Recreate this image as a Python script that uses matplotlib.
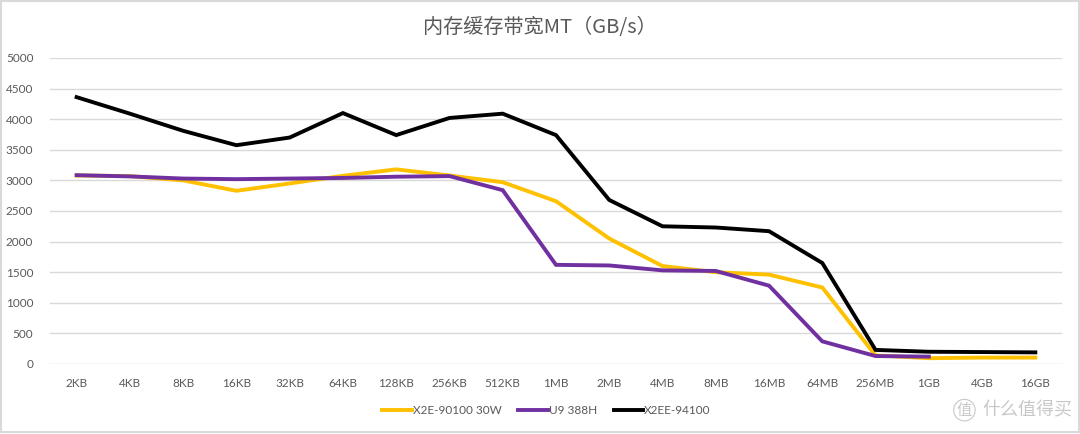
import matplotlib.pyplot as plt
from matplotlib.patches import Rectangle

# categories and series (GB/s)
sizes = ['2KB', '4KB', '8KB', '16KB', '32KB', '64KB', '128KB', '256KB', '512KB', '1MB',
         '2MB', '4MB', '8MB', '16MB', '64MB', '256MB', '1GB', '4GB', '16GB']
x2e_90100 = [3080, 3070, 3000, 2830, 2950, 3075, 3180, 3080, 2970, 2660,
             2050, 1600, 1500, 1460, 1250, 140, 95, 105, 105]
u9_388h = [3085, 3065, 3030, 3020, 3030, 3040, 3060, 3070, 2840, 1620,
           1610, 1530, 1520, 1280, 370, 130, 120]
x2ee_94100 = [4360, 4090, 3810, 3575, 3700, 4100, 3740, 4020, 4090, 3740,
              2680, 2250, 2230, 2170, 1650, 230, 200, 195, 190]

names = ['X2E-90100 30W', 'U9 388H', 'X2EE-94100']
colors = ['#FFC000', '#7030A0', '#000000']

plt.rcParams['font.family'] = ['Lato', 'Noto Sans CJK SC', 'DejaVu Sans']
grey = '#595959'

fig = plt.figure(figsize=(10.8, 4.34), dpi=100)
ax = fig.add_axes([0.0463, 0.1613, 0.937, 0.7051])

xs = list(range(len(sizes)))
for vals, name, c in zip([x2e_90100, u9_388h, x2ee_94100], names, colors):
    ax.plot(xs[:len(vals)], vals, color=c, lw=2.8, label=name, solid_joinstyle='miter')

ax.set_xlim(-0.5, len(sizes) - 0.5)
ax.set_ylim(0, 5000)
ax.set_yticks(range(0, 5001, 500))
ax.set_xticks(xs)
ax.set_xticklabels(sizes)
ax.grid(axis='y', color='#D9D9D9', lw=1)
ax.set_axisbelow(True)
for s in ax.spines.values():
    s.set_visible(False)
ax.tick_params(length=0, labelsize=8.5, labelcolor=grey)
ax.tick_params(axis='y', pad=12)
ax.tick_params(axis='x', pad=10)

fig.text(0.5, 0.937, '内存缓存带宽MT（GB/s）', ha='center', va='center',
         fontsize=14.5, color=grey, family=['Noto Sans CJK SC', 'DejaVu Sans'])

fig.legend(loc='center', bbox_to_anchor=(0.506, 0.053), ncol=3, frameon=False,
           fontsize=8.5, labelcolor=grey, handlelength=2.5, handletextpad=0.1,
           columnspacing=1.4)

# watermark
fig.text(0.893, 0.055, '值', ha='center', va='center', fontsize=11, color='#C8C8C8',
         family=['Noto Sans CJK SC'],
         bbox=dict(boxstyle='circle,pad=0.15', fc='none', ec='#C8C8C8', lw=0.8))
fig.text(0.91, 0.055, '什么值得买', ha='left', va='center', fontsize=13, color='#C8C8C8',
         family=['Noto Sans CJK SC'])

fig.patches.append(Rectangle((0.001, 0.004), 0.998, 0.994, transform=fig.transFigure,
                             fill=False, ec='#D9D9D9', lw=1.5))

fig.savefig('out.png', dpi=100)
